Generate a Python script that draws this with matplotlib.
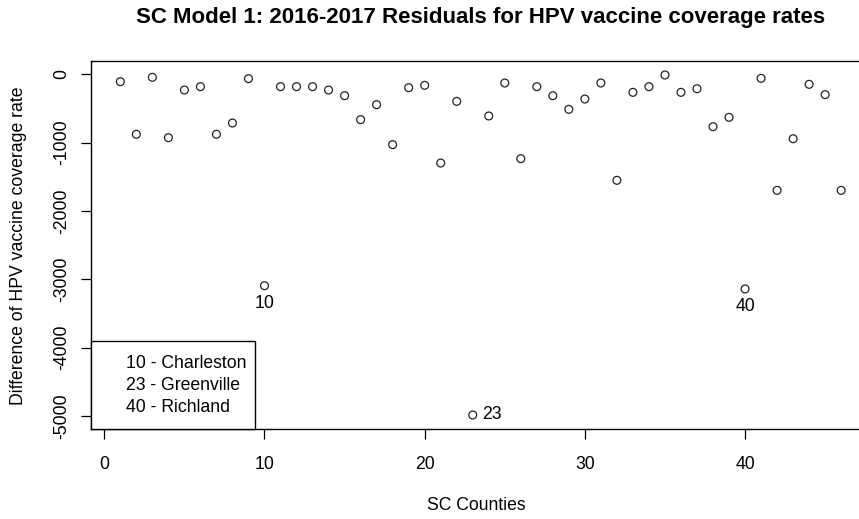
import matplotlib
matplotlib.use("Agg")
import matplotlib.pyplot as plt
from matplotlib.patches import Rectangle

counties = list(range(1, 47))
residuals = [-108, -878, -44, -928, -230, -181, -878, -713, -64, -3095,
             -181, -181, -181, -230, -313, -664, -445, -1030, -196, -161,
             -1299, -396, -4988, -610, -127, -1235, -181, -313, -513, -362,
             -127, -1552, -264, -181, -10, -264, -211, -767, -630, -3143,
             -59, -1699, -943, -147, -298, -1699]
labelled = [10, 23, 40]
legend_lines = ["10 - Charleston", "23 - Greenville", "40 - Richland"]
xticks = [0, 10, 20, 30, 40]
yticks = [0, -1000, -2000, -3000, -4000, -5000]

plt.rcParams['font.family'] = ['Liberation Sans', 'DejaVu Sans']
FS = 12.7

fig = plt.figure(figsize=(8.59, 5.19), dpi=100)
ax = fig.add_axes([0.1065, 0.1742, 0.9063, 0.7075])

ax.scatter(counties, residuals, s=32, facecolors='none', edgecolors='#222222',
           linewidths=0.9, zorder=3)

ax.set_xlim(-0.8, 47.8)
ax.set_ylim(-5187, 189)
ax.set_xticks(xticks)
ax.set_yticks(yticks)
ax.set_yticklabels([str(v) for v in yticks], rotation=90, va='center')
ax.tick_params(direction='out', length=7.5, width=0.9, labelsize=FS, colors='black')
ax.tick_params(axis='x', pad=12)
ax.tick_params(axis='y', pad=8)
for s in ax.spines.values():
    s.set_linewidth(1.0)

# point labels
for c in labelled:
    v = residuals[c - 1]
    if c == 23:
        ax.annotate(str(c), (c, v), xytext=(7, 0), textcoords='offset points',
                    ha='left', va='center', fontsize=FS)
    else:
        ax.annotate(str(c), (c, v), xytext=(0, -12.5), textcoords='offset points',
                    ha='center', va='center', fontsize=FS)

# legend box (bottom-left, no symbols)
ax.add_patch(Rectangle((0, 0), 0.2096, 0.2394, transform=ax.transAxes,
                       facecolor='white', edgecolor='black', linewidth=1.0,
                       zorder=4, clip_on=False))
for txt, yy in zip(legend_lines, [0.1778, 0.116, 0.058]):
    ax.text(0.0439, yy, txt, transform=ax.transAxes, ha='left', va='center',
            fontsize=FS, zorder=5)

fig.text(0.5597, 1 - 18 / 519, "SC Model 1: 2016-2017 Residuals for HPV vaccine coverage rates",
         ha='center', va='center', fontsize=16, fontweight='bold')
fig.text(0.5597 - 0.005, 1 - 505 / 519, "SC Counties", ha='center', va='center', fontsize=FS)
fig.text(19 / 859, 1 - 246 / 519, "Difference of HPV vaccine coverage rate",
         ha='center', va='center', rotation=90, fontsize=FS)

fig.savefig("out.png", dpi=100)
